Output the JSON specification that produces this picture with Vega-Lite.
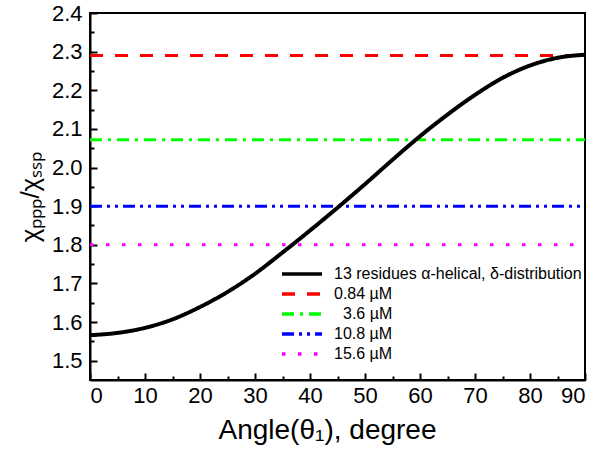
{
  "$schema": "https://vega.github.io/schema/vega-lite/v6.json",
  "width": 495,
  "height": 367,
  "autosize": {"type": "none"},
  "padding": {"left": 90, "top": 13, "right": 15, "bottom": 78},
  "background": "white",
  "config": {
    "view": {"stroke": "black", "strokeWidth": 2},
    "font": "Liberation Sans",
    "axis": {
      "grid": false,
      "domainColor": "black",
      "domainWidth": 2,
      "tickColor": "black",
      "tickWidth": 2,
      "labelFont": "Liberation Sans",
      "labelFontSize": 22,
      "labelColor": "black",
      "titleFont": "Liberation Sans",
      "titleFontSize": 28,
      "titleFontWeight": "normal",
      "titleColor": "black"
    },
    "legend": {
      "labelFont": "Liberation Sans",
      "labelFontSize": 16,
      "labelColor": "black",
      "labelLimit": 400
    }
  },
  "data": {
    "values": [
      {"series": "13 residues α-helical, δ-distribution", "angle": 0, "ratio": 1.566},
      {"series": "13 residues α-helical, δ-distribution", "angle": 5, "ratio": 1.572},
      {"series": "13 residues α-helical, δ-distribution", "angle": 10, "ratio": 1.585},
      {"series": "13 residues α-helical, δ-distribution", "angle": 15, "ratio": 1.607},
      {"series": "13 residues α-helical, δ-distribution", "angle": 20, "ratio": 1.639},
      {"series": "13 residues α-helical, δ-distribution", "angle": 25, "ratio": 1.678},
      {"series": "13 residues α-helical, δ-distribution", "angle": 30, "ratio": 1.725},
      {"series": "13 residues α-helical, δ-distribution", "angle": 35, "ratio": 1.780},
      {"series": "13 residues α-helical, δ-distribution", "angle": 40, "ratio": 1.837},
      {"series": "13 residues α-helical, δ-distribution", "angle": 45, "ratio": 1.896},
      {"series": "13 residues α-helical, δ-distribution", "angle": 50, "ratio": 1.957},
      {"series": "13 residues α-helical, δ-distribution", "angle": 55, "ratio": 2.020},
      {"series": "13 residues α-helical, δ-distribution", "angle": 60, "ratio": 2.081},
      {"series": "13 residues α-helical, δ-distribution", "angle": 65, "ratio": 2.137},
      {"series": "13 residues α-helical, δ-distribution", "angle": 70, "ratio": 2.188},
      {"series": "13 residues α-helical, δ-distribution", "angle": 75, "ratio": 2.232},
      {"series": "13 residues α-helical, δ-distribution", "angle": 80, "ratio": 2.264},
      {"series": "13 residues α-helical, δ-distribution", "angle": 85, "ratio": 2.284},
      {"series": "13 residues α-helical, δ-distribution", "angle": 90, "ratio": 2.292},
      {"series": "0.84 µM", "angle": 0, "ratio": 2.29},
      {"series": "0.84 µM", "angle": 90, "ratio": 2.29},
      {"series": "3.6 µM", "angle": 0, "ratio": 2.072},
      {"series": "3.6 µM", "angle": 90, "ratio": 2.072},
      {"series": "10.8 µM", "angle": 0, "ratio": 1.9},
      {"series": "10.8 µM", "angle": 90, "ratio": 1.9},
      {"series": "15.6 µM", "angle": 0, "ratio": 1.8},
      {"series": "15.6 µM", "angle": 90, "ratio": 1.8}
    ]
  },
  "layer": [
    {
      "transform": [{"filter": "datum.series !== '13 residues α-helical, δ-distribution'"}],
      "mark": {"type": "line", "strokeWidth": 3, "clip": true},
      "encoding": {
        "x": {"field": "angle", "type": "quantitative",
              "scale": {"domain": [0, 90], "nice": false},
              "axis": {"orient": "bottom", "values": [5, 15, 25, 35, 45, 55, 65, 75, 85], "labels": false, "domain": false, "tickSize": -4, "title": null}},
        "y": {"field": "ratio", "type": "quantitative",
              "scale": {"domain": [1.45, 2.4], "nice": false, "zero": false},
              "axis": {"orient": "left", "values": [1.55, 1.65, 1.75, 1.85, 1.95, 2.05, 2.15, 2.25, 2.35], "labels": false, "domain": false, "tickSize": -4, "title": null}},
        "color": {"field": "series", "type": "nominal",
                  "scale": {"domain": ["13 residues α-helical, δ-distribution", "0.84 µM", "3.6 µM", "10.8 µM", "15.6 µM"],
                            "range": ["#000000", "#ff0000", "#00ff00", "#0000ff", "#ff00ff"]},
                  "legend": {"orient": "none", "legendX": 200, "legendY": 249, "title": null, "padding": 0,
                             "symbolType": "M-2,0H2", "symbolSize": 400, "symbolStrokeWidth": 3.5, "labelOffset": 20, "rowPadding": 0,
                             "encode": {"labels": {"update": {"dx": {"signal": "datum.value === '3.6 µM' ? 9 : 0"}}}}}},
        "strokeDash": {"field": "series", "type": "nominal",
                       "scale": {"domain": ["13 residues α-helical, δ-distribution", "0.84 µM", "3.6 µM", "10.8 µM", "15.6 µM"],
                                 "range": [[1, 0], [13, 12], [12, 6, 3, 6], [12, 5, 3, 5, 3, 5], [3.5, 12.5]]}}
      }
    },
    {
      "transform": [{"filter": "datum.series === '13 residues α-helical, δ-distribution'"}],
      "mark": {"type": "line", "strokeWidth": 4, "interpolate": "monotone"},
      "encoding": {
        "x": {"field": "angle", "type": "quantitative",
              "axis": {"orient": "bottom", "values": [0, 10, 20, 30, 40, 50, 60, 70, 80, 90], "tickSize": -7, "labelPadding": 12, "title": "Angle(θ₁), degree", "titlePadding": 10, "titleX": 237}},
        "y": {"field": "ratio", "type": "quantitative",
              "axis": {"orient": "left", "values": [1.5, 1.6, 1.7, 1.8, 1.9, 2.0, 2.1, 2.2, 2.3, 2.4], "format": ".1f", "tickSize": -7, "labelPadding": 15, "title": "χₚₚₚ/χₛₛₚ", "titlePadding": 8, "titleFontSize": 26}},
        "color": {"field": "series", "type": "nominal"},
        "strokeDash": {"field": "series", "type": "nominal"}
      }
    }
  ],
  "resolve": {"axis": {"x": "independent", "y": "independent"}}
}
